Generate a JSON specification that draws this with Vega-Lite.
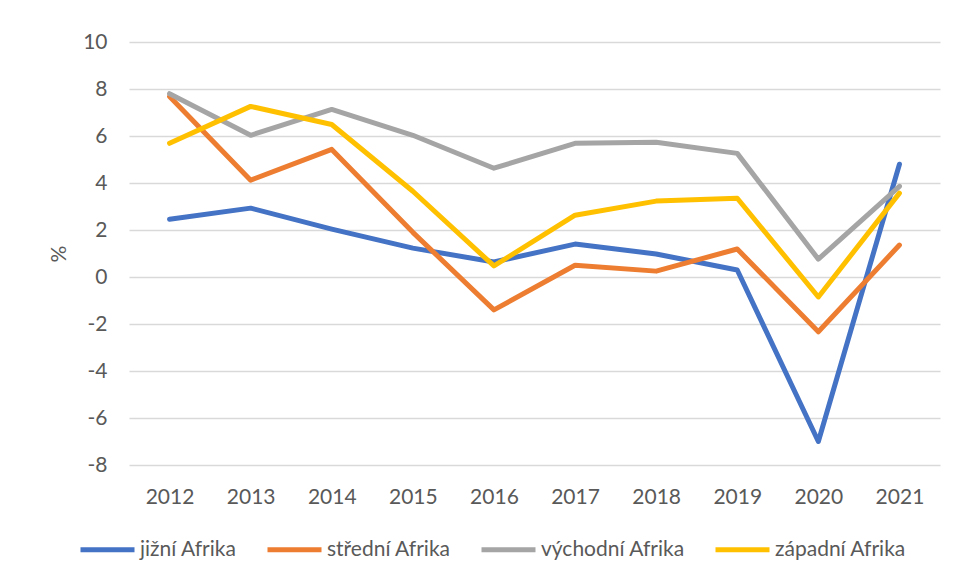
{
  "$schema": "https://vega.github.io/schema/vega-lite/v6.json",
  "width": 811,
  "height": 423,
  "autosize": "none",
  "padding": {"left": 129, "top": 42, "right": 17, "bottom": 116},
  "background": "white",
  "config": {
    "font": "Lato",
    "view": {"stroke": null},
    "axis": {"labelFont": "Lato", "titleFont": "Lato", "labelColor": "#595959", "titleColor": "#595959"}
  },
  "data": {
    "values": [
      {"rok": "2012", "region": "jižní Afrika", "v": 2.46},
      {"rok": "2013", "region": "jižní Afrika", "v": 2.93},
      {"rok": "2014", "region": "jižní Afrika", "v": 2.04},
      {"rok": "2015", "region": "jižní Afrika", "v": 1.23},
      {"rok": "2016", "region": "jižní Afrika", "v": 0.64},
      {"rok": "2017", "region": "jižní Afrika", "v": 1.4},
      {"rok": "2018", "region": "jižní Afrika", "v": 0.98},
      {"rok": "2019", "region": "jižní Afrika", "v": 0.3},
      {"rok": "2020", "region": "jižní Afrika", "v": -7.0},
      {"rok": "2021", "region": "jižní Afrika", "v": 4.8},
      {"rok": "2012", "region": "střední Afrika", "v": 7.68},
      {"rok": "2013", "region": "střední Afrika", "v": 4.12},
      {"rok": "2014", "region": "střední Afrika", "v": 5.43},
      {"rok": "2015", "region": "střední Afrika", "v": 1.9},
      {"rok": "2016", "region": "střední Afrika", "v": -1.4},
      {"rok": "2017", "region": "střední Afrika", "v": 0.5},
      {"rok": "2018", "region": "střední Afrika", "v": 0.25},
      {"rok": "2019", "region": "střední Afrika", "v": 1.19},
      {"rok": "2020", "region": "střední Afrika", "v": -2.33},
      {"rok": "2021", "region": "střední Afrika", "v": 1.36},
      {"rok": "2012", "region": "východní Afrika", "v": 7.8},
      {"rok": "2013", "region": "východní Afrika", "v": 6.03},
      {"rok": "2014", "region": "východní Afrika", "v": 7.13},
      {"rok": "2015", "region": "východní Afrika", "v": 6.03},
      {"rok": "2016", "region": "východní Afrika", "v": 4.63},
      {"rok": "2017", "region": "východní Afrika", "v": 5.69},
      {"rok": "2018", "region": "východní Afrika", "v": 5.73},
      {"rok": "2019", "region": "východní Afrika", "v": 5.26},
      {"rok": "2020", "region": "východní Afrika", "v": 0.76},
      {"rok": "2021", "region": "východní Afrika", "v": 3.86},
      {"rok": "2012", "region": "západní Afrika", "v": 5.69},
      {"rok": "2013", "region": "západní Afrika", "v": 7.26},
      {"rok": "2014", "region": "západní Afrika", "v": 6.49},
      {"rok": "2015", "region": "západní Afrika", "v": 3.65},
      {"rok": "2016", "region": "západní Afrika", "v": 0.47},
      {"rok": "2017", "region": "západní Afrika", "v": 2.63},
      {"rok": "2018", "region": "západní Afrika", "v": 3.23},
      {"rok": "2019", "region": "západní Afrika", "v": 3.35},
      {"rok": "2020", "region": "západní Afrika", "v": -0.85},
      {"rok": "2021", "region": "západní Afrika", "v": 3.57}
    ]
  },
  "mark": {"type": "line", "strokeWidth": 5, "strokeCap": "round", "strokeJoin": "round"},
  "encoding": {
    "x": {
      "field": "rok", "type": "ordinal",
      "scale": {"type": "point", "padding": 0.5},
      "axis": {"title": null, "labelAngle": 0, "labelFontSize": 21, "labelPadding": 21, "ticks": false, "domain": false, "grid": false}
    },
    "y": {
      "field": "v", "type": "quantitative",
      "scale": {"domain": [-8, 10], "nice": false, "zero": false},
      "axis": {
        "title": "%", "titleFontSize": 21, "titleFontWeight": "normal", "titlePadding": 13,
        "values": [-8, -6, -4, -2, 0, 2, 4, 6, 8, 10],
        "labelExpr": "toString(datum.value)",
        "labelFontSize": 21, "labelPadding": 22, "ticks": false, "domain": false,
        "grid": true, "gridColor": "#d9d9d9", "gridWidth": 1.5
      }
    },
    "color": {
      "field": "region", "type": "nominal",
      "scale": {
        "domain": ["jižní Afrika", "střední Afrika", "východní Afrika", "západní Afrika"],
        "range": ["#4472C4", "#ED7D31", "#A5A5A5", "#FFC000"]
      },
      "legend": {
        "title": null, "orient": "none", "direction": "horizontal",
        "legendX": -51, "legendY": 478,
        "symbolType": "stroke", "symbolSize": 2916, "symbolStrokeWidth": 5,
        "labelFontSize": 21, "labelColor": "#595959", "labelFont": "Lato",
        "labelOffset": 3, "columnPadding": 20
      }
    }
  }
}
